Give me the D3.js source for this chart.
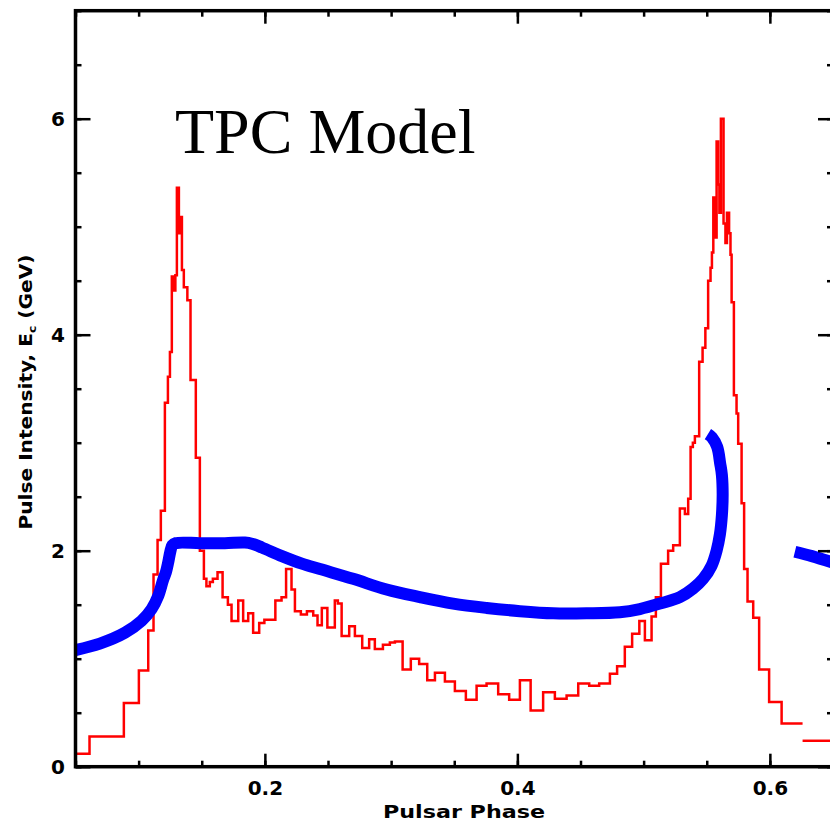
<!doctype html>
<html lang="en">
<head>
<meta charset="utf-8"/>
<title>TPC Model</title>
<script src="https://d3js.org/d3.v7.min.js"></script>
<style>
    body { margin: 0; background: #fff; }
    svg { display: block; }
    .lbl { font-family: "DejaVu Sans", sans-serif; font-weight: bold; fill: #000; }
    .tick line { stroke: #000; stroke-width: 2.5; }
</style>
</head>
<body>
<svg width="830" height="824"></svg>
<script>
// observed pulse profile (red histogram): bin left edges and heights
var phaseEdges = [
    0.0500,0.0611,0.0883,0.1002,0.1076,0.1118,0.1150,0.1176,0.1208,0.1232,
    0.1248,0.1263,0.1279,0.1291,0.1303,0.1319,0.1327,0.1343,0.1358,0.1386,
    0.1411,0.1453,0.1485,0.1517,0.1537,0.1564,0.1588,0.1625,0.1665,0.1707,
    0.1736,0.1789,0.1828,0.1868,0.1907,0.1955,0.1996,0.2083,0.2132,0.2168,
    0.2211,0.2238,0.2285,0.2333,0.2383,0.2417,0.2451,0.2495,0.2554,0.2578,
    0.2608,0.2668,0.2713,0.2771,0.2826,0.2871,0.2935,0.2990,0.3030,0.3091,
    0.3156,0.3222,0.3286,0.3347,0.3426,0.3505,0.3592,0.3677,0.3756,0.3848,
    0.3935,0.4020,0.4105,0.4204,0.4297,0.4390,0.4482,0.4569,0.4648,0.4733,
    0.4790,0.4851,0.4909,0.4966,0.5010,0.5063,0.5097,0.5137,0.5194,0.5234,
    0.5287,0.5327,0.5353,0.5372,0.5390,0.5406,0.5440,0.5467,0.5489,0.5511,
    0.5530,0.5541,0.5552,0.5564,0.5578,0.5590,0.5600,0.5612,0.5633,0.5648,
    0.5660,0.5677,0.5688,0.5697,0.5715,0.5736,0.5749,0.5776,0.5796,0.5823,
    0.5868,0.5915,0.5994,0.6093
];
var intensity = [
    0.12,0.28,0.59,0.89,1.26,1.78,2.10,2.37,3.37,3.61,
    3.84,4.54,4.41,4.55,5.36,4.94,5.09,4.60,4.44,4.32,
    3.58,2.86,2.00,1.74,1.67,1.71,1.74,1.80,1.57,1.50,
    1.35,1.54,1.35,1.42,1.24,1.33,1.36,1.54,1.57,1.83,
    1.64,1.44,1.41,1.44,1.40,1.31,1.47,1.29,1.54,1.51,
    1.21,1.30,1.21,1.10,1.18,1.09,1.13,1.15,1.16,0.90,
    1.00,0.95,0.80,0.87,0.79,0.70,0.62,0.75,0.77,0.67,
    0.62,0.80,0.52,0.69,0.63,0.66,0.77,0.75,0.77,0.86,
    0.93,1.11,1.23,1.35,1.17,1.39,1.57,1.88,2.00,2.05,
    2.39,2.34,2.48,2.96,3.00,3.06,3.75,3.88,4.06,4.50,
    4.62,4.76,5.27,4.90,5.79,5.39,5.13,6.00,5.03,4.85,
    5.13,4.94,4.74,4.30,3.44,3.27,2.99,2.44,1.83,1.53,
    1.38,0.90,0.60,0.40
];
var phaseEnd = 0.6259;
// separate tail bin at the right edge
var tailEdges = [0.6259];
var tailIntensity = [0.24];
var tailEnd = 0.65;

// TPC model curve (blue)
var modelPhase = [
    0.050,0.0693,0.0891,0.1023,0.1103,0.1155,0.1194,0.1216,0.1234,0.1251,
    0.1267,0.1295,0.1485,0.1683,0.1842,0.1897,0.1976,0.2135,0.2293,0.2436,
    0.2699,0.2964,0.3228,0.3491,0.3756,0.4020,0.4284,0.4548,0.4812,0.4970,
    0.5129,0.5287,0.5392,0.5472,0.5538,0.5578,0.5604,0.5620,0.5626,0.5620,
    0.5606,0.5583,0.5541,0.5509
];
var modelE = [
    1.08,1.14,1.24,1.35,1.46,1.58,1.73,1.80,1.89,1.99,
    2.05,2.07,2.07,2.07,2.075,2.065,2.03,1.95,1.88,1.83,
    1.74,1.64,1.57,1.51,1.47,1.44,1.42,1.42,1.43,1.46,
    1.51,1.57,1.65,1.74,1.86,2.00,2.15,2.33,2.52,2.70,
    2.81,2.96,3.05,3.08
];
var model2Phase = [0.6198, 0.6333, 0.6500];
var model2E = [1.99, 1.95, 1.89];

var xMajor = [0.2, 0.4, 0.6];
var xMinor = d3.range(0.05, 0.651, 0.05);
var yMajor = [0, 2, 4, 6];
var yMinor = d3.range(0, 7.01, 0.5);

var svg = d3.select("svg");
var plotL = 75.5, plotR = 833, plotT = 10.7, plotB = 766.7;

var x = d3.scaleLinear().domain([0.05, 0.65]).range([plotL, plotR]);
var y = d3.scaleLinear().domain([0, 7]).range([plotB, plotT]);

svg.append("clipPath").attr("id", "plot")
   .append("rect")
   .attr("x", plotL).attr("y", plotT)
   .attr("width", plotR - plotL).attr("height", plotB - plotT);

var g = svg.append("g").attr("clip-path", "url(#plot)");

function steps(edges, vals, end) {
    var pts = edges.map(function(e, i) { return [e, vals[i]]; });
    pts.push([end, vals[vals.length - 1]]);
    return pts;
}

var stepLine = d3.line()
    .x(function(d) { return x(d[0]); })
    .y(function(d) { return y(d[1]); })
    .curve(d3.curveStepAfter);

g.append("path")
 .attr("d", stepLine(steps(phaseEdges, intensity, phaseEnd)))
 .attr("fill", "none").attr("stroke", "#ff0000").attr("stroke-width", 2.5);

g.append("path")
 .attr("d", stepLine(steps(tailEdges, tailIntensity, tailEnd)))
 .attr("fill", "none").attr("stroke", "#ff0000").attr("stroke-width", 2.5);

var curve = d3.line()
    .x(function(d) { return x(d[0]); })
    .y(function(d) { return y(d[1]); })
    .curve(d3.curveCatmullRom.alpha(0.5));

g.append("path")
 .attr("d", curve(modelPhase.map(function(p, i) { return [p, modelE[i]]; })))
 .attr("fill", "none").attr("stroke", "#0000ff").attr("stroke-width", 12)
 .attr("stroke-linejoin", "round");

g.append("path")
 .attr("d", curve(model2Phase.map(function(p, i) { return [p, model2E[i]]; })))
 .attr("fill", "none").attr("stroke", "#0000ff").attr("stroke-width", 12);

// ticks on all four sides, pointing inward
function ticks(axis, tx, ty) {
    var a = svg.append("g").attr("transform", "translate(" + tx + "," + ty + ")").call(axis);
    a.select(".domain").remove();
    return a;
}
ticks(d3.axisBottom(x).tickValues(xMinor).tickSize(-6).tickFormat(""), 0, plotB);
ticks(d3.axisTop(x).tickValues(xMinor).tickSize(-6).tickFormat(""), 0, plotT);
ticks(d3.axisLeft(y).tickValues(yMinor).tickSize(-6).tickFormat(""), plotL, 0);
ticks(d3.axisRight(y).tickValues(yMinor).tickSize(-6).tickFormat(""), plotR, 0);
ticks(d3.axisTop(x).tickValues(xMajor).tickSize(-13).tickFormat(""), 0, plotT);
ticks(d3.axisRight(y).tickValues(yMajor).tickSize(-15).tickFormat(""), plotR, 0);

var xb = ticks(d3.axisBottom(x).tickValues(xMajor).tickSize(-13).tickFormat(d3.format(".1f")), 0, plotB);
xb.selectAll("text")
  .attr("class", "lbl").attr("font-size", 20)
  .attr("y", 28.5).attr("dy", null)
  .attr("fill", "#000");

var yl = ticks(d3.axisLeft(y).tickValues(yMajor).tickSize(-15).tickFormat(d3.format("d")), plotL, 0);
yl.selectAll("text")
  .attr("class", "lbl").attr("font-size", 20)
  .attr("x", -17.5).attr("dy", "0.36em")
  .attr("text-anchor", "middle")
  .attr("fill", "#000");

// frame
svg.append("rect")
   .attr("x", plotL).attr("y", plotT)
   .attr("width", plotR - plotL).attr("height", plotB - plotT)
   .attr("fill", "none").attr("stroke", "#000").attr("stroke-width", 3.5);

// axis titles
svg.append("text").attr("class", "lbl")
   .attr("x", 464).attr("y", 818)
   .attr("text-anchor", "middle").attr("font-size", 18)
   .attr("textLength", 162).attr("lengthAdjust", "spacingAndGlyphs")
   .text("Pulsar Phase");

var yt = svg.append("text").attr("class", "lbl")
   .attr("transform", "translate(32,392) rotate(-90)")
   .attr("text-anchor", "middle").attr("font-size", 18)
   .attr("textLength", 275).attr("lengthAdjust", "spacingAndGlyphs");
yt.append("tspan").text("Pulse Intensity, E");
yt.append("tspan").attr("font-size", 11).attr("dy", 4).text("c");
yt.append("tspan").attr("dy", -4).text(" (GeV)");

// title
svg.append("text")
   .attr("x", 175).attr("y", 153)
   .attr("font-family", "'Liberation Serif', 'Times New Roman', serif")
   .attr("font-size", 64)
   .attr("fill", "#000")
   .text("TPC Model");
</script>
</body>
</html>
